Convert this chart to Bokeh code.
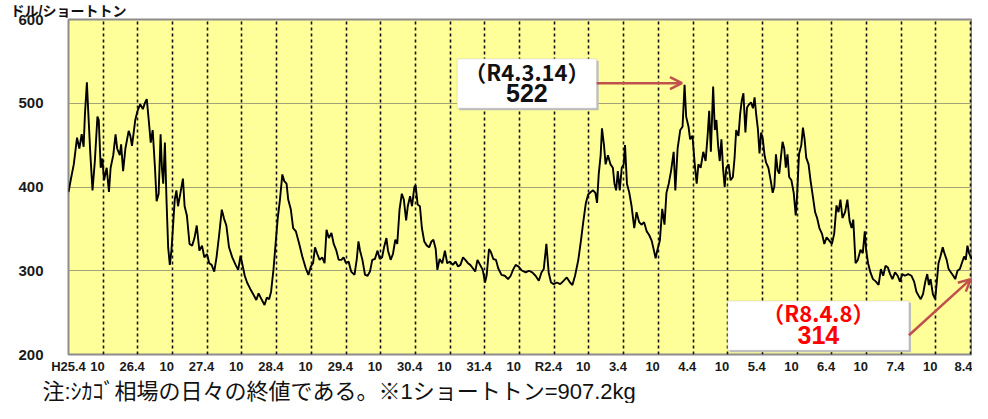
import numpy as np
from bokeh.plotting import figure
from bokeh.models import Range1d, FixedTicker, BoxAnnotation, Label, Arrow, OpenHead, Title
from bokeh.embed import file_html
from bokeh.resources import INLINE

# ---------------- data (decimal years, $/short ton) ----------------
years_1 = [2013.250, 2013.288, 2013.326, 2013.373, 2013.406, 2013.440, 2013.468, 2013.487, 2013.515, 2013.534,
           2013.563, 2013.596, 2013.629, 2013.667, 2013.686, 2013.714, 2013.738, 2013.762, 2013.800, 2013.833,
           2013.857, 2013.895, 2013.928, 2013.951, 2013.989, 2014.008, 2014.037, 2014.070, 2014.117, 2014.141,
           2014.165, 2014.212, 2014.245, 2014.283, 2014.321, 2014.354, 2014.378, 2014.406, 2014.435, 2014.463,
           2014.496, 2014.520, 2014.549, 2014.577, 2014.596, 2014.615, 2014.639, 2014.662, 2014.686, 2014.710,
           2014.733, 2014.757, 2014.781, 2014.805, 2014.828, 2014.861, 2014.899, 2014.923, 2014.956, 2014.994,
           2015.032, 2015.065, 2015.098, 2015.136, 2015.174, 2015.207, 2015.245, 2015.278, 2015.312, 2015.350,
           2015.383, 2015.421, 2015.459, 2015.492, 2015.525, 2015.563, 2015.610, 2015.658, 2015.695, 2015.729,
           2015.752, 2015.790, 2015.823, 2015.871, 2015.918, 2015.956, 2015.989, 2016.037, 2016.075, 2016.108,
           2016.141, 2016.169, 2016.203, 2016.226, 2016.264, 2016.297, 2016.331, 2016.359, 2016.392, 2016.416,
           2016.454, 2016.487]
price_1 = [394, 411, 427, 459, 446, 463, 448, 487, 525, 491,
           442, 396, 430, 484, 480, 423, 434, 408, 423, 394,
           423, 438, 463, 446, 438, 451, 419, 446, 467, 461,
           449, 480, 491, 499, 493, 501, 505, 480, 453, 468,
           423, 383, 392, 463, 423, 404, 453, 385, 328, 307,
           324, 354, 385, 396, 377, 392, 410, 377, 366, 332,
           330, 339, 354, 324, 330, 316, 320, 309, 307, 299,
           316, 343, 373, 362, 354, 328, 316, 307, 301, 318,
           309, 294, 286, 278, 271, 265, 273, 265, 259, 268,
           266, 275, 301, 324, 362, 385, 415, 407, 404, 385,
           373, 351]

years_2 = [2016.527, 2016.575, 2016.622, 2016.669, 2016.707, 2016.741, 2016.774, 2016.802, 2016.835, 2016.868,
           2016.906, 2016.940, 2016.968, 2017.001, 2017.039, 2017.072, 2017.110, 2017.143, 2017.181, 2017.214,
           2017.248, 2017.286, 2017.323, 2017.371, 2017.404, 2017.428, 2017.451, 2017.485, 2017.523, 2017.560,
           2017.594, 2017.627, 2017.665, 2017.703, 2017.736, 2017.769, 2017.797, 2017.831, 2017.854, 2017.892,
           2017.925, 2017.959, 2017.987, 2018.020, 2018.053, 2018.082, 2018.115, 2018.139, 2018.172, 2018.200,
           2018.233, 2018.252, 2018.281, 2018.314, 2018.342, 2018.376, 2018.414, 2018.447, 2018.480, 2018.508,
           2018.541, 2018.565, 2018.598, 2018.636, 2018.674, 2018.707, 2018.745, 2018.788, 2018.826, 2018.864,
           2018.897, 2018.935, 2018.968, 2019.006, 2019.039, 2019.077, 2019.110, 2019.143, 2019.181, 2019.219,
           2019.252, 2019.276, 2019.309, 2019.338, 2019.371, 2019.409, 2019.442, 2019.489, 2019.537, 2019.584,
           2019.622, 2019.655, 2019.693, 2019.736, 2019.774]
price_2 = [347, 332, 316, 303, 295, 305, 309, 328, 320, 313,
           316, 309, 349, 339, 345, 332, 324, 313, 313, 316,
           309, 311, 299, 295, 314, 335, 324, 313, 295, 294,
           299, 313, 314, 324, 314, 316, 328, 339, 324, 313,
           320, 337, 332, 373, 392, 385, 360, 377, 389, 377,
           400, 402, 379, 377, 351, 335, 330, 328, 335, 337,
           326, 301, 314, 309, 324, 309, 311, 307, 311, 305,
           307, 316, 313, 309, 307, 303, 299, 313, 307, 301,
           286, 295, 326, 322, 314, 313, 303, 295, 294, 290,
           294, 301, 307, 305, 301]

years_3 = [2019.790, 2019.838, 2019.885, 2019.932, 2019.980, 2020.027, 2020.065, 2020.098, 2020.136, 2020.169,
           2020.203, 2020.241, 2020.288, 2020.335, 2020.383, 2020.430, 2020.477, 2020.511, 2020.549, 2020.596,
           2020.634, 2020.667, 2020.705, 2020.738, 2020.776, 2020.809, 2020.842, 2020.866, 2020.890, 2020.918,
           2020.937, 2020.966, 2020.989, 2021.023, 2021.060, 2021.094, 2021.117, 2021.141, 2021.165, 2021.193,
           2021.222, 2021.250, 2021.269, 2021.297, 2021.331, 2021.364, 2021.402, 2021.435, 2021.473, 2021.506,
           2021.544, 2021.582, 2021.615, 2021.653, 2021.686, 2021.710, 2021.733, 2021.771, 2021.805, 2021.838,
           2021.866, 2021.899, 2021.932, 2021.970, 2021.994, 2022.027, 2022.065, 2022.098, 2022.127, 2022.150,
           2022.184, 2022.207, 2022.241, 2022.278, 2022.302, 2022.326, 2022.359, 2022.397, 2022.430, 2022.459,
           2022.482, 2022.506, 2022.539, 2022.563, 2022.586, 2022.610, 2022.634, 2022.658, 2022.681, 2022.705,
           2022.729, 2022.762, 2022.790, 2022.823, 2022.847, 2022.871, 2022.904, 2022.928, 2022.951, 2022.975,
           2023.004, 2023.027, 2023.060]
price_3 = [300, 298, 300, 298, 294, 288, 298, 302, 332, 298,
           286, 284, 286, 284, 288, 292, 286, 283, 294, 313,
           336, 358, 381, 391, 394, 396, 393, 381, 415, 438,
           470, 450, 427, 438, 427, 423, 404, 396, 419, 396,
           423, 427, 450, 404, 393, 377, 351, 370, 358, 355,
           358, 347, 343, 336, 324, 315, 324, 336, 374, 355,
           393, 404, 419, 442, 396, 446, 468, 472, 522, 484,
           472, 457, 461, 423, 404, 427, 423, 442, 431, 461,
           491, 442, 520, 468, 480, 450, 431, 457, 423, 400,
           423, 427, 408, 412, 434, 468, 461, 487, 503, 512,
           465, 495, 499]

years_4 = [2023.084, 2023.113, 2023.136, 2023.160, 2023.184, 2023.207, 2023.231, 2023.255, 2023.278, 2023.302,
           2023.335, 2023.368, 2023.397, 2023.421, 2023.444, 2023.468, 2023.492, 2023.515, 2023.539, 2023.563,
           2023.586, 2023.610, 2023.634, 2023.667, 2023.700, 2023.729, 2023.748, 2023.776, 2023.809, 2023.833,
           2023.857, 2023.880, 2023.914, 2023.942, 2023.975, 2024.008, 2024.037, 2024.070, 2024.108, 2024.141,
           2024.174, 2024.212, 2024.250, 2024.283, 2024.316, 2024.345, 2024.373, 2024.402, 2024.440, 2024.473,
           2024.506, 2024.534, 2024.558, 2024.591, 2024.624, 2024.662, 2024.695, 2024.724, 2024.743, 2024.771,
           2024.805, 2024.842, 2024.885, 2024.923, 2024.956, 2024.989, 2025.023, 2025.056, 2025.089, 2025.122,
           2025.160, 2025.198, 2025.231, 2025.264, 2025.302, 2025.350, 2025.397, 2025.435, 2025.468, 2025.501,
           2025.530, 2025.563, 2025.596, 2025.624, 2025.648, 2025.672, 2025.705, 2025.738, 2025.762, 2025.786,
           2025.814, 2025.847, 2025.871, 2025.904, 2025.932, 2025.966, 2025.999, 2026.027, 2026.060, 2026.094,
           2026.122, 2026.155, 2026.179, 2026.203, 2026.226, 2026.250, 2026.268]
price_4 = [501, 494, 507, 486, 469, 440, 465, 457, 439, 429,
           423, 408, 393, 401, 439, 420, 416, 435, 454, 446,
           423, 439, 412, 408, 393, 366, 389, 439, 450, 471,
           457, 435, 427, 408, 389, 370, 363, 351, 344, 332,
           340, 336, 332, 344, 378, 370, 385, 363, 370, 385,
           359, 351, 361, 309, 313, 325, 321, 347, 325, 309,
           298, 290, 287, 283, 302, 294, 306, 304, 296, 290,
           298, 294, 287, 296, 294, 296, 294, 287, 275, 270,
           266, 272, 287, 296, 283, 290, 272, 266, 287, 309,
           317, 328, 321, 313, 302, 298, 294, 290, 300, 302,
           309, 317, 313, 330, 321, 317, 314]

tick_labels = ["H25.4", "10", "26.4", "10", "27.4", "10", "28.4", "10", "29.4", "10",
               "30.4", "10", "31.4", "10", "R2.4", "10", "3.4", "10", "4.4", "10",
               "5.4", "10", "6.4", "10", "7.4", "10", "8.4"]
y_ticks = [200, 300, 400, 500, 600]

unit_text = "ドル/ショートトン"
note_text = "注:ｼｶｺﾞ相場の日々の終値である。※1ショートトン=907.2kg"
peak_text = ["（R4.3.14）", "522"]
last_text = ["（R8.4.8）", "314"]

# ---------------- build ----------------
START = 2013.25
MIXED_FONT = "Liberation Sans, Noto Sans CJK JP"


def to_m(y):
    return (np.asarray(y, dtype=float) - START) * 12.0


years = years_1 + years_2 + years_3 + years_4
prices = price_1 + price_2 + price_3 + price_4
n = min(len(years), len(prices))
xs = to_m(years[:n])
ys = prices[:n]

p = figure(width=972, height=403, output_backend="svg", toolbar_location=None, tools="",
           title=unit_text,
           x_range=Range1d(0, float(to_m(2026.276))), y_range=Range1d(200, 600),
           min_border_left=68, min_border_right=0, min_border_top=0, min_border_bottom=0,
           background_fill_color="#FFFF99", border_fill_color="white",
           outline_line_color="#8c8c8c", outline_line_width=2)

p.title.align = "left"
p.title.offset = -58
p.title.standoff = 1
p.title.text_font = MIXED_FONT
p.title.text_font_style = "bold"
p.title.text_font_size = "14px"
p.title.text_color = "#111111"

# x axis: labels every half year, slightly left of the grid lines as in the source
label_pos = [0] + [6 * i - 1 for i in range(1, len(tick_labels))]
p.xaxis.ticker = FixedTicker(ticks=label_pos)
p.xaxis.major_label_overrides = {pos: lab for pos, lab in zip(label_pos, tick_labels)}
p.xaxis.axis_line_color = None
p.xaxis.major_tick_line_color = None
p.xaxis.minor_tick_line_color = None
p.xaxis.major_tick_out = 0
p.xaxis.major_tick_in = 0
p.xaxis.minor_tick_out = 0
p.xaxis.major_label_standoff = 4
p.xaxis.major_label_text_font = "Liberation Sans"
p.xaxis.major_label_text_font_style = "bold"
p.xaxis.major_label_text_font_size = "13px"
p.xaxis.major_label_text_color = "#1a1a1a"

p.yaxis.ticker = FixedTicker(ticks=y_ticks)
p.yaxis.axis_line_color = None
p.yaxis.major_tick_line_color = None
p.yaxis.minor_tick_line_color = None
p.yaxis.major_tick_out = 0
p.yaxis.major_tick_in = 0
p.yaxis.minor_tick_out = 0
p.yaxis.major_label_standoff = 25
p.yaxis.major_label_text_font = "Liberation Sans"
p.yaxis.major_label_text_font_style = "bold"
p.yaxis.major_label_text_font_size = "15px"
p.yaxis.major_label_text_color = "#1a1a1a"

p.xgrid.ticker = FixedTicker(ticks=[6 * i for i in range(1, 27)])
p.xgrid.grid_line_color = "#111111"
p.xgrid.grid_line_dash = "3 3"
p.xgrid.grid_line_width = 1.6

p.ygrid.ticker = FixedTicker(ticks=[300, 400, 500])
p.ygrid.grid_line_color = "#a3a37a"
p.ygrid.grid_line_width = 1

p.line(xs, ys, line_color="black", line_width=1.9)

# ---- annotation boxes ----
ARROW_COL = "#c0504d"


def add_box(x0, x1, top, bottom):
    dx = 0.35
    dy = 2.3
    p.add_layout(BoxAnnotation(left=float(to_m(x0)) + dx, right=float(to_m(x1)) + dx,
                               top=top - dy, bottom=bottom - dy,
                               fill_color="#bdbdbd", fill_alpha=1, line_color=None))
    p.add_layout(BoxAnnotation(left=float(to_m(x0)), right=float(to_m(x1)), top=top, bottom=bottom,
                               fill_color="white", fill_alpha=1, line_color="#a6a6a6", line_width=1))


add_box(2018.85, 2020.86, 553, 494)
add_box(2022.75, 2025.36, 264, 205)

box_cx_1 = float(to_m(2019.855))
box_cx_2 = float(to_m(2024.055))
p.add_layout(Label(x=box_cx_1, y=538, text=peak_text[0], text_align="center",
                   text_baseline="middle", text_font="Noto Sans CJK JP", text_font_style="bold",
                   text_font_size="22px", text_color="#111111"))
p.add_layout(Label(x=box_cx_1, y=512, text=peak_text[1], text_align="center",
                   text_baseline="middle", text_font="Liberation Sans", text_font_style="bold",
                   text_font_size="25px", text_color="#111111"))
p.add_layout(Label(x=box_cx_2, y=251, text=last_text[0], text_align="center",
                   text_baseline="middle", text_font="Noto Sans CJK JP", text_font_style="bold",
                   text_font_size="22px", text_color="#ff0000"))
p.add_layout(Label(x=box_cx_2, y=223, text=last_text[1], text_align="center",
                   text_baseline="middle", text_font="Liberation Sans", text_font_style="bold",
                   text_font_size="25px", text_color="#ff0000"))

p.add_layout(Arrow(end=OpenHead(size=12, line_color=ARROW_COL, line_width=2.5),
                   x_start=float(to_m(2020.86)), y_start=524, x_end=float(to_m(2022.09)), y_end=524,
                   line_color=ARROW_COL, line_width=2.5))
p.add_layout(Arrow(end=OpenHead(size=12, line_color=ARROW_COL, line_width=2.5),
                   x_start=float(to_m(2025.36)), y_start=223, x_end=float(to_m(2026.25)), y_end=290,
                   line_color=ARROW_COL, line_width=2.5))

# ---- footnote under the axis ----
p.add_layout(Title(text=note_text, align="left", offset=-26, standoff=0,
                   text_font=MIXED_FONT, text_font_style="normal",
                   text_font_size="22px", text_color="#111111"), "below")

open("out.html", "w").write(file_html(p, INLINE))
